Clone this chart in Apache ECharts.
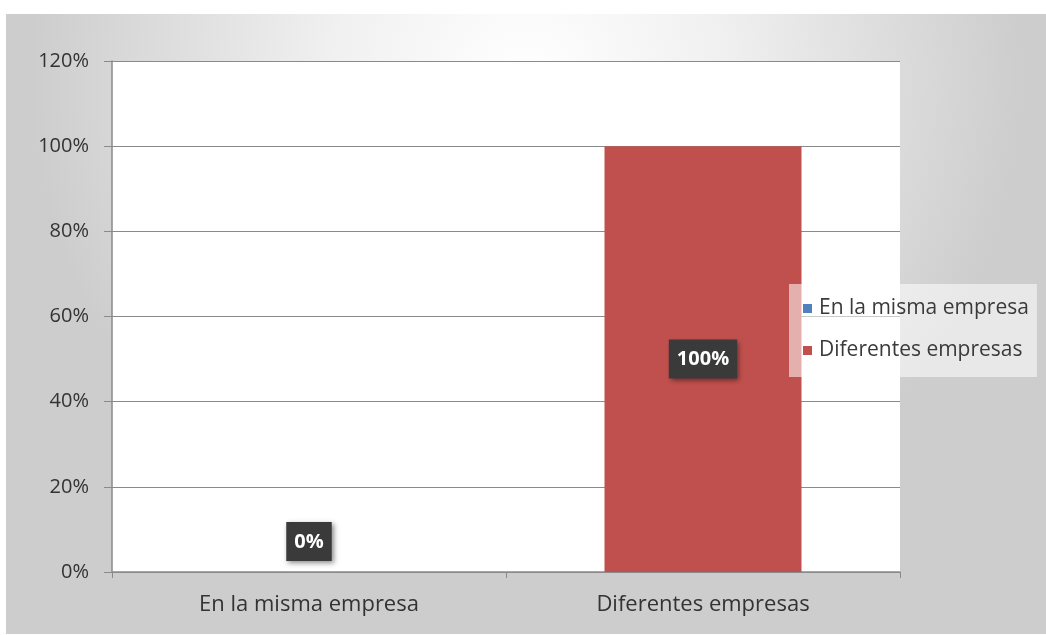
<!DOCTYPE html>
<html>
<head>
<meta charset="utf-8">
<script src="https://cdn.jsdelivr.net/npm/echarts@6/dist/echarts.min.js"></script>
<style>
  html, body { margin: 0; padding: 0; background: #ffffff; }
  #chart { width: 1046px; height: 635px; }
</style>
</head>
<body>
<div id="chart"></div>
<script>
// Categories and their shares (percent)
const categories = ['En la misma empresa', 'Diferentes empresas'];
const values = [0, 100];
const seriesColors = ['#4f81bd', '#c0504d'];
const yTicks = [0, 20, 40, 60, 80, 100, 120];

const FONT = '"Open Sans", "Noto Sans", sans-serif';

// One series per category so the legend lists both; stacking keeps each bar centred
const series = categories.map((name, i) => ({
  name: name,
  type: 'bar',
  stack: 'total',
  barWidth: '50%',
  itemStyle: { color: seriesColors[i] },
  data: values.map((v, j) => (j === i ? v : '-')),
  label: {
    show: true,
    position: values[i] === 0 ? 'top' : 'inside',
    distance: 11,
    formatter: p => p.value + '%',
    color: '#ffffff',
    fontFamily: FONT,
    fontWeight: 'bold',
    fontSize: 20,
    backgroundColor: '#3a3a3a',
    padding: [10, 8, 9, 8],
    shadowColor: 'rgba(0,0,0,0.45)',
    shadowBlur: 5,
    shadowOffsetX: 2,
    shadowOffsetY: 2
  }
}));

const chart = echarts.init(document.getElementById('chart'), null, { renderer: 'canvas' });
chart.setOption({
  animation: false,
  graphic: [{
    type: 'rect',
    z: -10,
    silent: true,
    shape: { x: 6, y: 14, width: 1040, height: 620 },
    style: {
      fill: new echarts.graphic.RadialGradient(0.5, 0.1, 0.8, [
        { offset: 0, color: '#ffffff' },
        { offset: 0.4, color: '#f0f0f0' },
        { offset: 1, color: '#cdcdcd' }
      ])
    }
  }],
  grid: {
    left: 112, right: 146, top: 61, bottom: 63,
    show: true,
    backgroundColor: '#ffffff',
    borderWidth: 0
  },
  legend: {
    orient: 'vertical',
    left: 789,
    top: 284,
    padding: [14, 8, 16, 14],
    backgroundColor: 'rgba(255,255,255,0.55)',
    itemWidth: 9,
    itemHeight: 9,
    itemGap: 21,
    icon: 'rect',
    textStyle: { fontFamily: FONT, fontSize: 21, color: '#3a3a3a', padding: [0, 0, 0, 2] },
    data: categories
  },
  xAxis: {
    type: 'category',
    data: categories,
    axisLine: { lineStyle: { color: '#8a8a8a', width: 1.5 } },
    axisTick: { show: true, length: 6, lineStyle: { color: '#8a8a8a' } },
    axisLabel: { fontFamily: FONT, fontSize: 22, color: '#333333', margin: 22 }
  },
  yAxis: {
    type: 'value',
    min: 0,
    max: 120,
    interval: 20,
    axisLine: { show: true, lineStyle: { color: '#8a8a8a', width: 1.5 } },
    axisTick: { show: true, length: 8, lineStyle: { color: '#8a8a8a' } },
    splitLine: { lineStyle: { color: '#8a8a8a', width: 1 } },
    axisLabel: {
      fontFamily: FONT, fontSize: 20, color: '#333333', margin: 23,
      formatter: v => (yTicks.includes(v) ? v + '%' : '')
    }
  },
  series: series
});
</script>
</body>
</html>
